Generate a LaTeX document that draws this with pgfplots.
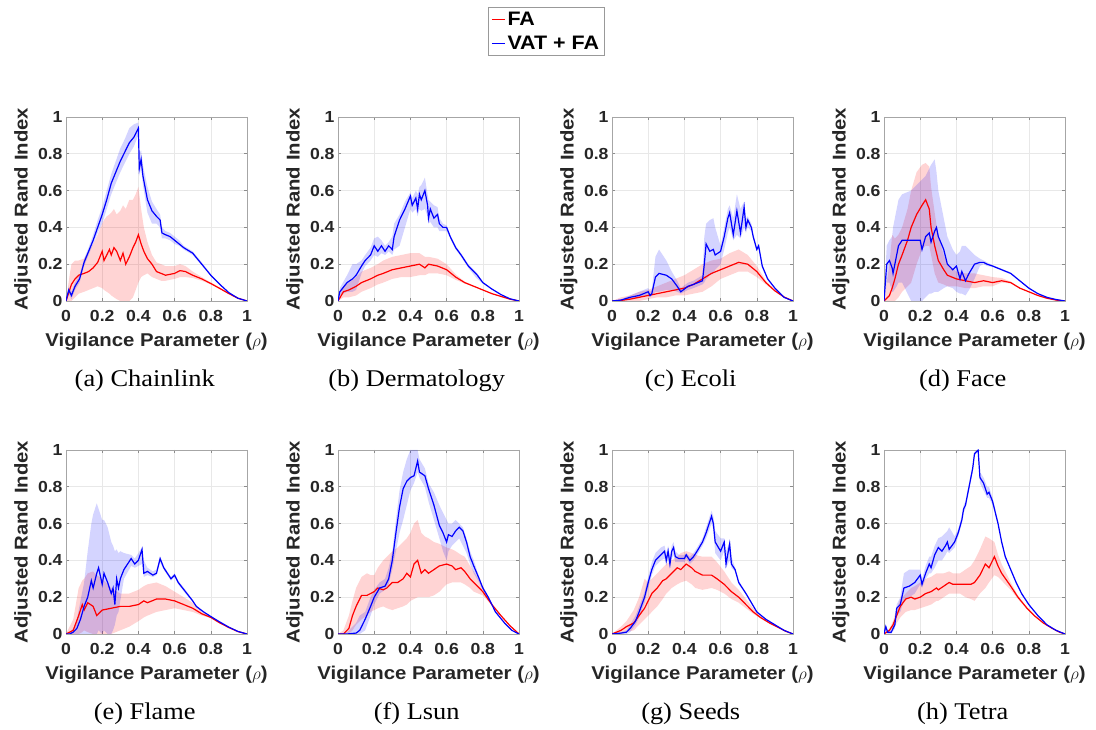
\documentclass[border=0pt]{standalone}
\usepackage{fontspec}
\setmainfont{Liberation Serif}[FakeStretch=1.1]
\newfontfamily\arial{Liberation Sans}[FakeStretch=1.1]
\usepackage{pgfplots}
\pgfplotsset{compat=1.18}
\usepackage{pgfplotstable}
\usepgfplotslibrary{fillbetween}

% columns: x, mean ARI (m), lower (lo) and upper (hi) edge of the spread band
% ---------------- (a) Chainlink
\pgfplotstableread{
x m lo hi
0 0 0 0
0.02 0.06 0.0 0.14
0.03 0.09 0.0 0.2
0.05 0.12 0.02 0.22
0.07 0.14 0.04 0.22
0.1 0.15 0.05 0.23
0.125 0.16 0.06 0.27
0.15 0.18 0.07 0.31
0.175 0.21 0.08 0.36
0.2 0.27 0.07 0.42
0.21 0.22 0.06 0.44
0.225 0.25 0.05 0.46
0.24 0.28 0.04 0.47
0.25 0.25 0.03 0.48
0.265 0.29 0.02 0.50
0.28 0.27 0.01 0.47
0.3 0.22 0.0 0.49
0.315 0.26 0.0 0.52
0.33 0.20 0.0 0.50
0.35 0.24 0.0 0.55
0.37 0.29 0.02 0.55
0.385 0.32 0.06 0.58
0.4 0.36 0.10 0.62
0.415 0.31 0.13 0.50
0.43 0.27 0.14 0.40
0.45 0.23 0.15 0.32
0.475 0.20 0.13 0.25
0.5 0.16 0.12 0.21
0.525 0.15 0.11 0.20
0.55 0.14 0.11 0.19
0.6 0.15 0.12 0.19
0.63 0.165 0.13 0.20
0.66 0.16 0.13 0.19
0.7 0.14 0.125 0.16
0.75 0.12 0.11 0.13
0.8 0.095 0.09 0.10
0.85 0.068 0.064 0.072
0.9 0.04 0.038 0.042
0.95 0.015 0.014 0.016
1 0 0 0
}\faA
\pgfplotstableread{
x m lo hi
0 0 0 0
0.015 0.06 0.04 0.08
0.03 0.03 0.01 0.05
0.05 0.08 0.06 0.10
0.075 0.12 0.10 0.14
0.1 0.21 0.19 0.23
0.125 0.27 0.25 0.29
0.15 0.33 0.31 0.36
0.175 0.40 0.37 0.44
0.2 0.47 0.42 0.51
0.225 0.55 0.50 0.60
0.25 0.64 0.58 0.69
0.275 0.70 0.64 0.76
0.3 0.76 0.70 0.83
0.325 0.81 0.75 0.88
0.35 0.86 0.80 0.94
0.375 0.89 0.84 0.96
0.4 0.94 0.90 0.97
0.405 0.72 0.68 0.80
0.415 0.77 0.72 0.82
0.425 0.68 0.63 0.74
0.45 0.55 0.48 0.62
0.475 0.49 0.42 0.54
0.5 0.46 0.42 0.50
0.52 0.44 0.40 0.47
0.53 0.37 0.34 0.40
0.55 0.36 0.34 0.38
0.575 0.35 0.33 0.37
0.6 0.33 0.31 0.35
0.625 0.31 0.30 0.33
0.65 0.29 0.28 0.30
0.7 0.26 0.25 0.27
0.75 0.20 0.195 0.21
0.8 0.14 0.135 0.145
0.85 0.09 0.087 0.093
0.9 0.045 0.043 0.047
0.95 0.015 0.014 0.016
1 0 0 0
}\vatA
% ---------------- (b) Dermatology
\pgfplotstableread{
x m lo hi
0 0 0 0
0.03 0.05 0.02 0.08
0.06 0.06 0.02 0.10
0.1 0.08 0.03 0.13
0.13 0.10 0.05 0.16
0.18 0.12 0.07 0.18
0.22 0.14 0.09 0.20
0.25 0.15 0.10 0.22
0.3 0.17 0.12 0.24
0.35 0.18 0.13 0.25
0.4 0.19 0.13 0.26
0.45 0.20 0.14 0.26
0.48 0.18 0.14 0.24
0.5 0.20 0.15 0.24
0.55 0.19 0.15 0.23
0.6 0.17 0.14 0.20
0.65 0.13 0.115 0.145
0.7 0.10 0.095 0.105
0.75 0.08 0.077 0.083
0.8 0.06 0.058 0.062
0.85 0.04 0.039 0.041
0.9 0.025 0.024 0.026
0.95 0.01 0.01 0.01
1 0 0 0
}\faB
\pgfplotstableread{
x m lo hi
0 0 0 0
0.01 0.05 0.03 0.07
0.05 0.10 0.05 0.14
0.08 0.12 0.05 0.20
0.1 0.14 0.06 0.20
0.13 0.19 0.15 0.22
0.15 0.22 0.19 0.25
0.18 0.25 0.22 0.29
0.2 0.30 0.25 0.34
0.22 0.27 0.24 0.35
0.24 0.30 0.26 0.33
0.26 0.27 0.25 0.30
0.28 0.30 0.27 0.32
0.3 0.28 0.25 0.35
0.31 0.35 0.28 0.42
0.34 0.44 0.30 0.47
0.37 0.50 0.40 0.54
0.4 0.57 0.50 0.59
0.41 0.52 0.48 0.56
0.43 0.56 0.50 0.60
0.44 0.50 0.46 0.58
0.45 0.58 0.50 0.62
0.46 0.55 0.49 0.63
0.48 0.60 0.50 0.67
0.495 0.52 0.46 0.58
0.5 0.45 0.42 0.55
0.51 0.50 0.43 0.54
0.53 0.45 0.40 0.52
0.55 0.47 0.40 0.51
0.56 0.42 0.38 0.45
0.58 0.40 0.38 0.42
0.6 0.40 0.38 0.41
0.62 0.35 0.34 0.36
0.65 0.29 0.28 0.30
0.68 0.25 0.24 0.26
0.72 0.19 0.18 0.20
0.76 0.15 0.13 0.16
0.77 0.14 0.12 0.15
0.8 0.10 0.095 0.105
0.85 0.065 0.063 0.067
0.9 0.035 0.034 0.036
0.95 0.012 0.012 0.012
1 0 0 0
}\vatB
% ---------------- (c) Ecoli
\pgfplotstableread{
x m lo hi
0 0 0 0
0.05 0.003 0 0.02
0.1 0.01 0 0.03
0.15 0.02 0.0 0.05
0.2 0.03 0.01 0.06
0.25 0.04 0.02 0.08
0.3 0.05 0.02 0.10
0.35 0.06 0.03 0.12
0.4 0.07 0.03 0.14
0.45 0.09 0.04 0.17
0.5 0.12 0.05 0.20
0.55 0.15 0.08 0.22
0.6 0.17 0.12 0.23
0.65 0.19 0.14 0.26
0.7 0.21 0.16 0.28
0.75 0.20 0.16 0.25
0.8 0.16 0.13 0.19
0.85 0.10 0.09 0.11
0.9 0.055 0.052 0.058
0.95 0.022 0.021 0.023
1 0 0 0
}\faC
\pgfplotstableread{
x m lo hi
0 0 0 0
0.05 0.005 0 0.01
0.1 0.02 0.01 0.03
0.15 0.03 0.02 0.05
0.2 0.05 0.03 0.07
0.21 0.03 0.02 0.05
0.22 0.04 0.03 0.06
0.24 0.13 0.05 0.24
0.26 0.15 0.05 0.28
0.3 0.14 0.06 0.22
0.33 0.12 0.06 0.16
0.36 0.08 0.05 0.11
0.38 0.05 0.04 0.07
0.42 0.08 0.06 0.10
0.45 0.09 0.07 0.11
0.5 0.11 0.09 0.14
0.51 0.20 0.10 0.35
0.52 0.31 0.12 0.42
0.54 0.27 0.14 0.44
0.56 0.28 0.15 0.45
0.57 0.25 0.17 0.40
0.6 0.27 0.20 0.30
0.62 0.35 0.28 0.40
0.64 0.45 0.37 0.50
0.65 0.48 0.40 0.52
0.67 0.36 0.33 0.45
0.69 0.49 0.36 0.58
0.71 0.37 0.34 0.50
0.73 0.51 0.40 0.54
0.74 0.40 0.37 0.45
0.75 0.44 0.40 0.46
0.77 0.40 0.38 0.42
0.78 0.35 0.34 0.37
0.8 0.28 0.27 0.29
0.81 0.30 0.29 0.31
0.83 0.19 0.18 0.20
0.86 0.12 0.115 0.125
0.9 0.07 0.068 0.072
0.93 0.04 0.039 0.041
0.95 0.02 0.02 0.02
1 0 0 0
}\vatC
% ---------------- (d) Face
\pgfplotstableread{
x m lo hi
0 0 0 0
0.03 0.03 0.0 0.20
0.045 0.07 0.0 0.36
0.06 0.12 0.0 0.34
0.08 0.20 0.02 0.36
0.1 0.25 0.05 0.40
0.13 0.33 0.08 0.50
0.15 0.40 0.10 0.60
0.18 0.47 0.20 0.70
0.21 0.52 0.28 0.74
0.23 0.55 0.30 0.75
0.25 0.50 0.30 0.73
0.26 0.40 0.25 0.62
0.28 0.30 0.15 0.48
0.3 0.22 0.10 0.35
0.33 0.17 0.09 0.25
0.35 0.14 0.08 0.20
0.4 0.12 0.08 0.16
0.45 0.11 0.07 0.15
0.5 0.10 0.07 0.15
0.55 0.11 0.08 0.14
0.6 0.10 0.08 0.13
0.65 0.11 0.10 0.125
0.7 0.10 0.095 0.105
0.75 0.07 0.068 0.072
0.8 0.05 0.049 0.051
0.85 0.03 0.03 0.03
0.9 0.015 0.015 0.015
0.95 0.005 0.005 0.005
1 0 0 0
}\faD
\pgfplotstableread{
x m lo hi
0 0 0 0
0.015 0.20 0.10 0.30
0.03 0.22 0.10 0.33
0.045 0.18 0.05 0.35
0.05 0.15 0.05 0.40
0.07 0.25 0.08 0.50
0.08 0.30 0.10 0.55
0.1 0.33 0.10 0.58
0.15 0.33 0.0 0.60
0.2 0.33 0.0 0.65
0.21 0.28 0.0 0.66
0.23 0.35 0.02 0.68
0.25 0.37 0.04 0.72
0.26 0.32 0.04 0.74
0.28 0.38 0.05 0.77
0.29 0.40 0.05 0.70
0.3 0.35 0.05 0.60
0.33 0.28 0.07 0.45
0.35 0.20 0.08 0.35
0.38 0.17 0.07 0.28
0.4 0.19 0.05 0.25
0.42 0.12 0.04 0.27
0.43 0.16 0.04 0.30
0.45 0.11 0.03 0.30
0.47 0.15 0.06 0.28
0.5 0.20 0.12 0.25
0.53 0.21 0.19 0.23
0.55 0.21 0.20 0.22
0.57 0.20 0.19 0.21
0.6 0.19 0.185 0.195
0.65 0.17 0.165 0.175
0.7 0.15 0.145 0.155
0.75 0.11 0.107 0.113
0.8 0.07 0.068 0.072
0.85 0.04 0.039 0.041
0.9 0.02 0.02 0.02
0.95 0.008 0.008 0.008
1 0 0 0
}\vatD
% ---------------- (e) Flame
\pgfplotstableread{
x m lo hi
0 0 0 0
0.04 0.02 0.0 0.08
0.07 0.10 0.0 0.25
0.09 0.16 0.01 0.29
0.1 0.13 0.02 0.30
0.12 0.17 0.01 0.33
0.15 0.15 0.0 0.34
0.17 0.10 0.0 0.32
0.2 0.13 0.0 0.30
0.25 0.14 0.0 0.25
0.3 0.15 0.02 0.22
0.35 0.15 0.04 0.22
0.4 0.16 0.07 0.24
0.43 0.18 0.09 0.26
0.45 0.17 0.10 0.27
0.5 0.19 0.12 0.28
0.55 0.19 0.13 0.26
0.6 0.18 0.14 0.23
0.65 0.16 0.13 0.20
0.7 0.14 0.12 0.17
0.75 0.11 0.10 0.12
0.8 0.09 0.087 0.093
0.85 0.06 0.058 0.062
0.9 0.035 0.034 0.036
0.95 0.013 0.013 0.013
1 0 0 0
}\faE
\pgfplotstableread{
x m lo hi
0 0 0 0
0.02 0.0 0 0.01
0.04 0.01 0 0.03
0.06 0.03 0 0.08
0.08 0.08 0.0 0.18
0.1 0.15 0.0 0.28
0.12 0.20 0.0 0.45
0.14 0.29 0.0 0.60
0.15 0.25 0.0 0.65
0.17 0.33 0.0 0.71
0.18 0.36 0.02 0.68
0.2 0.27 0.0 0.62
0.21 0.33 0.02 0.62
0.23 0.28 0.0 0.58
0.25 0.22 0.0 0.50
0.26 0.25 0.02 0.48
0.27 0.16 0.05 0.45
0.28 0.30 0.10 0.46
0.29 0.25 0.12 0.44
0.3 0.30 0.18 0.45
0.32 0.35 0.30 0.44
0.36 0.41 0.37 0.43
0.38 0.38 0.36 0.41
0.4 0.40 0.37 0.44
0.42 0.46 0.38 0.47
0.43 0.33 0.31 0.40
0.45 0.34 0.32 0.36
0.48 0.32 0.31 0.34
0.5 0.33 0.32 0.35
0.52 0.41 0.39 0.42
0.54 0.36 0.35 0.37
0.56 0.33 0.32 0.34
0.58 0.30 0.29 0.31
0.6 0.32 0.31 0.33
0.62 0.28 0.27 0.29
0.66 0.23 0.22 0.24
0.7 0.18 0.175 0.185
0.72 0.15 0.145 0.155
0.76 0.12 0.117 0.123
0.8 0.095 0.093 0.097
0.85 0.065 0.063 0.067
0.9 0.037 0.036 0.038
0.95 0.014 0.014 0.014
1 0 0 0
}\vatE
% ---------------- (f) Lsun
\pgfplotstableread{
x m lo hi
0 0 0 0
0.03 0.0 0 0.02
0.06 0.03 0 0.10
0.08 0.10 0.02 0.18
0.1 0.15 0.05 0.25
0.13 0.21 0.08 0.31
0.16 0.21 0.10 0.33
0.18 0.22 0.12 0.32
0.2 0.23 0.13 0.32
0.22 0.25 0.14 0.36
0.25 0.24 0.15 0.40
0.27 0.25 0.14 0.42
0.3 0.28 0.13 0.45
0.33 0.28 0.14 0.47
0.36 0.30 0.15 0.50
0.38 0.33 0.16 0.52
0.4 0.31 0.18 0.55
0.42 0.38 0.19 0.60
0.44 0.40 0.20 0.62
0.46 0.33 0.20 0.55
0.48 0.35 0.20 0.53
0.5 0.33 0.20 0.52
0.53 0.35 0.21 0.50
0.56 0.37 0.23 0.49
0.6 0.38 0.27 0.47
0.63 0.37 0.28 0.46
0.65 0.35 0.28 0.45
0.68 0.36 0.28 0.43
0.7 0.34 0.27 0.42
0.73 0.30 0.25 0.37
0.75 0.28 0.23 0.34
0.8 0.23 0.21 0.26
0.85 0.16 0.155 0.165
0.9 0.10 0.098 0.102
0.95 0.045 0.044 0.046
1 0 0 0
}\faF
\pgfplotstableread{
x m lo hi
0 0 0 0
0.05 0.0 0 0.01
0.1 0.005 0 0.06
0.12 0.02 0 0.10
0.15 0.08 0.02 0.12
0.18 0.15 0.10 0.20
0.2 0.20 0.16 0.24
0.23 0.25 0.22 0.28
0.26 0.26 0.24 0.30
0.28 0.30 0.27 0.36
0.3 0.40 0.35 0.45
0.32 0.55 0.45 0.62
0.34 0.69 0.55 0.78
0.36 0.79 0.62 0.88
0.38 0.83 0.70 0.95
0.4 0.85 0.78 1.0
0.42 0.86 0.82 1.0
0.44 0.94 0.88 1.0
0.45 0.88 0.85 0.95
0.48 0.86 0.80 0.90
0.5 0.79 0.72 0.82
0.53 0.70 0.62 0.77
0.56 0.59 0.52 0.70
0.58 0.55 0.45 0.66
0.6 0.50 0.40 0.62
0.61 0.54 0.45 0.60
0.63 0.53 0.48 0.60
0.65 0.56 0.50 0.62
0.67 0.58 0.52 0.60
0.69 0.56 0.48 0.58
0.71 0.50 0.44 0.52
0.73 0.42 0.38 0.45
0.75 0.37 0.33 0.40
0.78 0.30 0.28 0.31
0.8 0.25 0.24 0.26
0.83 0.20 0.195 0.205
0.87 0.12 0.117 0.123
0.92 0.06 0.058 0.062
0.96 0.02 0.02 0.02
1 0 0 0
}\vatF
% ---------------- (g) Seeds
\pgfplotstableread{
x m lo hi
0 0 0 0
0.05 0.02 0 0.04
0.08 0.04 0.01 0.07
0.12 0.06 0.02 0.13
0.15 0.10 0.05 0.20
0.18 0.14 0.08 0.30
0.2 0.18 0.10 0.28
0.22 0.22 0.12 0.30
0.25 0.25 0.15 0.33
0.28 0.29 0.19 0.36
0.3 0.30 0.22 0.38
0.33 0.33 0.25 0.40
0.36 0.36 0.27 0.42
0.38 0.35 0.28 0.44
0.41 0.38 0.29 0.45
0.44 0.36 0.27 0.44
0.46 0.34 0.25 0.43
0.5 0.32 0.24 0.42
0.55 0.32 0.25 0.42
0.58 0.30 0.24 0.39
0.62 0.27 0.22 0.34
0.66 0.23 0.19 0.28
0.7 0.20 0.17 0.24
0.74 0.16 0.14 0.19
0.78 0.12 0.11 0.14
0.82 0.09 0.085 0.095
0.87 0.06 0.058 0.062
0.91 0.04 0.039 0.041
0.96 0.015 0.015 0.015
1 0 0 0
}\faG
\pgfplotstableread{
x m lo hi
0 0 0 0
0.05 0.005 0 0.01
0.08 0.01 0 0.02
0.1 0.03 0.01 0.05
0.13 0.07 0.05 0.10
0.15 0.12 0.09 0.15
0.18 0.20 0.17 0.23
0.2 0.28 0.25 0.31
0.22 0.35 0.32 0.39
0.24 0.40 0.37 0.44
0.27 0.43 0.40 0.47
0.29 0.45 0.41 0.48
0.3 0.40 0.37 0.44
0.31 0.45 0.41 0.48
0.32 0.38 0.36 0.42
0.33 0.45 0.41 0.48
0.34 0.47 0.43 0.50
0.35 0.42 0.39 0.45
0.37 0.41 0.39 0.43
0.4 0.41 0.39 0.43
0.41 0.43 0.41 0.44
0.43 0.40 0.38 0.42
0.45 0.42 0.40 0.44
0.47 0.45 0.43 0.47
0.5 0.50 0.48 0.52
0.52 0.55 0.52 0.58
0.55 0.64 0.60 0.67
0.56 0.60 0.57 0.64
0.57 0.50 0.44 0.56
0.6 0.45 0.40 0.52
0.62 0.50 0.45 0.52
0.63 0.38 0.36 0.45
0.65 0.49 0.40 0.50
0.66 0.38 0.36 0.42
0.68 0.35 0.34 0.36
0.7 0.28 0.27 0.29
0.74 0.22 0.215 0.225
0.77 0.17 0.165 0.175
0.8 0.12 0.117 0.123
0.85 0.08 0.078 0.082
0.9 0.05 0.049 0.051
0.95 0.02 0.02 0.02
1 0 0 0
}\vatG
% ---------------- (h) Tetra
\pgfplotstableread{
x m lo hi
0 0 0 0
0.03 0.02 0.01 0.03
0.05 0.05 0.03 0.07
0.07 0.10 0.06 0.14
0.09 0.15 0.09 0.19
0.12 0.19 0.12 0.22
0.15 0.20 0.13 0.25
0.17 0.19 0.13 0.26
0.2 0.20 0.14 0.28
0.23 0.22 0.15 0.30
0.26 0.23 0.16 0.31
0.29 0.25 0.18 0.33
0.3 0.24 0.18 0.33
0.33 0.26 0.20 0.33
0.36 0.28 0.22 0.34
0.38 0.27 0.22 0.33
0.42 0.27 0.22 0.33
0.45 0.27 0.20 0.35
0.48 0.27 0.19 0.37
0.5 0.28 0.18 0.40
0.53 0.32 0.22 0.46
0.56 0.38 0.25 0.53
0.58 0.36 0.28 0.52
0.61 0.42 0.32 0.50
0.63 0.37 0.31 0.43
0.65 0.33 0.29 0.38
0.7 0.26 0.24 0.28
0.74 0.20 0.19 0.21
0.79 0.14 0.135 0.145
0.83 0.10 0.097 0.103
0.88 0.06 0.058 0.062
0.93 0.03 0.03 0.03
0.97 0.01 0.01 0.01
1 0 0 0
}\faH
\pgfplotstableread{
x m lo hi
0 0 0 0
0.01 0.04 0.02 0.05
0.02 0.01 0 0.02
0.04 0.01 0 0.02
0.06 0.05 0.03 0.07
0.07 0.14 0.10 0.16
0.09 0.16 0.12 0.20
0.11 0.25 0.18 0.33
0.14 0.26 0.20 0.35
0.17 0.28 0.22 0.35
0.2 0.32 0.27 0.35
0.21 0.27 0.25 0.30
0.23 0.33 0.30 0.37
0.25 0.38 0.33 0.42
0.26 0.36 0.33 0.42
0.28 0.43 0.36 0.48
0.3 0.47 0.40 0.52
0.32 0.45 0.40 0.53
0.34 0.48 0.43 0.55
0.35 0.50 0.45 0.56
0.36 0.46 0.44 0.58
0.39 0.50 0.47 0.53
0.41 0.55 0.53 0.57
0.43 0.62 0.60 0.64
0.44 0.68 0.66 0.70
0.45 0.70 0.68 0.72
0.47 0.80 0.78 0.82
0.49 0.90 0.88 0.92
0.5 0.98 0.97 0.99
0.52 1.0 0.99 1.0
0.53 0.85 0.82 0.88
0.55 0.82 0.78 0.85
0.57 0.76 0.74 0.80
0.58 0.77 0.74 0.80
0.6 0.72 0.70 0.74
0.63 0.60 0.59 0.61
0.65 0.50 0.49 0.51
0.67 0.42 0.41 0.43
0.7 0.35 0.345 0.355
0.73 0.28 0.275 0.285
0.76 0.22 0.215 0.225
0.8 0.16 0.157 0.163
0.85 0.10 0.098 0.102
0.9 0.05 0.049 0.051
0.95 0.02 0.02 0.02
1 0 0 0
}\vatH

\pgfplotsset{
  vpanel/.style={
    scale only axis, width=181pt, height=184pt,
    xmin=0, xmax=1, ymin=0, ymax=1,
    clip mode=individual,
    xtick={0,0.2,0.4,0.6,0.8,1}, ytick={0,0.2,0.4,0.6,0.8,1},
    grid=major, major grid style={black!9, line width=0.6pt},
    axis line style={black!35, line width=0.6pt},
    tick style={black!45, line width=0.6pt},
    tick align=inside, major tick length=3pt,
    /pgf/number format/assume math mode=true,
    ticklabel style={font=\arial\bfseries\fontsize{16}{16}\selectfont, text=black!85},
    xticklabel style={yshift=-6pt},
    xlabel={Vigilance Parameter ($\rho$)},
    ylabel={Adjusted Rand Index},
    label style={font=\arial\bfseries\fontsize{18.5}{18.5}\selectfont, text=black!85},
    xlabel style={at={(axis description cs:0.5,-0.222)}, anchor=center},
    ylabel style={at={(axis description cs:-0.238,0.5)}, anchor=center},
  },
  vlegend/.style={
    legend entries={FA, VAT + FA},
    legend cell align=left,
    legend style={at={(axis description cs:2.3315,1.6)}, anchor=north west,
      draw=black!40, inner sep=3pt, row sep=5pt,
      font=\arial\bfseries\fontsize{19.5}{19.5}\selectfont},
  },
}

% one panel: #1,#2 lower-left corner, #3 FA table, #4 VAT+FA table, #5 caption, #6 extra keys
\newcommand\panel[6]{%
  \begin{axis}[vpanel, at={(#1,#2)}, anchor=south west, #6]
    \addlegendimage{legend image code/.code={\draw[draw=red, line width=1.3pt] (0pt,0pt) -- (13pt,0pt);}}
    \addlegendimage{legend image code/.code={\draw[draw=blue, line width=1.3pt] (0pt,0pt) -- (13pt,0pt);}}
    \addplot[draw=none, forget plot, name path=rh] table[x=x, y=hi] {#3};
    \addplot[draw=none, forget plot, name path=rl] table[x=x, y=lo] {#3};
    \addplot[fill=red, fill opacity=0.17, draw=none, forget plot] fill between[of=rh and rl];
    \addplot[draw=none, forget plot, name path=bh] table[x=x, y=hi] {#4};
    \addplot[draw=none, forget plot, name path=bl] table[x=x, y=lo] {#4};
    \addplot[fill=blue, fill opacity=0.17, draw=none, forget plot] fill between[of=bh and bl];
    \addplot[red, line width=1.2pt, forget plot] table[x=x, y=m] {#3};
    \addplot[blue, line width=1.2pt, forget plot] table[x=x, y=m] {#4};
    \node[font=\fontsize{24}{28}\selectfont] at (axis description cs:0.435,-0.432) {#5};
  \end{axis}}

\begin{document}
\begin{tikzpicture}
  \panel{66pt}{429pt}{\faA}{\vatA}{(a) Chainlink}{vlegend}
  \panel{338pt}{429pt}{\faB}{\vatB}{(b) Dermatology}{}
  \panel{612pt}{429pt}{\faC}{\vatC}{(c) Ecoli}{}
  \panel{884pt}{429pt}{\faD}{\vatD}{(d) Face}{}
  \panel{66pt}{96pt}{\faE}{\vatE}{(e) Flame}{}
  \panel{338pt}{96pt}{\faF}{\vatF}{(f) Lsun}{}
  \panel{612pt}{96pt}{\faG}{\vatG}{(g) Seeds}{}
  \panel{884pt}{96pt}{\faH}{\vatH}{(h) Tetra}{}
  \pgfresetboundingbox
  \useasboundingbox (0pt,0pt) rectangle (1096pt,730pt);
\end{tikzpicture}
\end{document}
